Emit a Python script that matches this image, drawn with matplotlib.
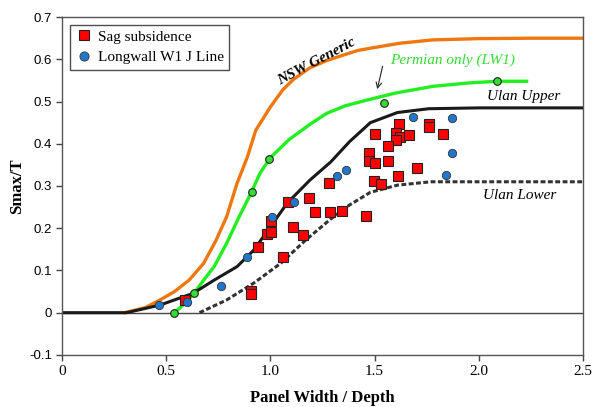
import matplotlib
matplotlib.use("Agg")
import matplotlib.pyplot as plt

# curves
nsw_x = [0.30, 0.40, 0.47, 0.54, 0.61, 0.68, 0.74, 0.79, 0.84, 0.89, 0.93, 1.00,
         1.06, 1.11, 1.19, 1.27, 1.35, 1.42, 1.50, 1.62, 1.78, 2.00, 2.25, 2.50]
nsw_y = [0.0, 0.012, 0.03, 0.05, 0.077, 0.117, 0.172, 0.227, 0.306, 0.369, 0.432, 0.487,
         0.528, 0.552, 0.580, 0.597, 0.61, 0.621, 0.628, 0.638, 0.646, 0.649, 0.65, 0.65]

perm_x = [0.54, 0.59, 0.635, 0.68, 0.73, 0.79, 0.85, 0.91, 0.95, 1.00, 1.09, 1.19,
          1.27, 1.36, 1.46, 1.60, 1.78, 1.95, 2.09, 2.23]
perm_y = [0.0, 0.022, 0.047, 0.077, 0.109, 0.164, 0.227, 0.286, 0.33, 0.367, 0.410, 0.446,
          0.472, 0.49, 0.503, 0.52, 0.536, 0.544, 0.548, 0.548]

upper_x = [0.0, 0.31, 0.47, 0.63, 0.73, 0.84, 0.92, 1.00, 1.08, 1.19, 1.29, 1.38,
           1.48, 1.61, 1.76, 2.0, 2.5]
upper_y = [0.0, 0.0, 0.018, 0.046, 0.077, 0.109, 0.148, 0.203, 0.259, 0.314, 0.357, 0.405,
           0.450, 0.474, 0.483, 0.485, 0.485]

lower_x = [0.66, 0.79, 0.92, 1.05, 1.17, 1.29, 1.38, 1.48, 1.61, 1.77, 2.0, 2.5]
lower_y = [0.0, 0.03, 0.07, 0.117, 0.172, 0.222, 0.255, 0.285, 0.302, 0.31, 0.31, 0.31]

# measured points
sag_x = [1.617, 1.761, 1.761, 1.502, 1.601, 1.622, 1.665, 1.83, 1.601, 1.563, 1.475, 1.475,
         1.502, 1.563, 1.705, 1.614, 1.499, 1.529, 1.345, 1.457, 1.286, 1.283, 1.086, 1.187,
         1.214, 1.110, 1.158, 1.003, 0.982, 1.003, 0.942, 1.059, 0.905, 0.905, 0.590]
sag_y = [0.447, 0.448, 0.440, 0.424, 0.426, 0.416, 0.42, 0.422, 0.41, 0.394, 0.379, 0.359,
         0.355, 0.359, 0.342, 0.324, 0.312, 0.304, 0.241, 0.229, 0.239, 0.307, 0.261, 0.271,
         0.239, 0.203, 0.184, 0.218, 0.186, 0.190, 0.156, 0.132, 0.052, 0.044, 0.030]

lw_x = [1.686, 1.870, 1.870, 1.843, 1.361, 1.321, 1.115, 1.006, 0.886, 0.761, 0.598, 0.467]
lw_y = [0.463, 0.462, 0.377, 0.327, 0.337, 0.324, 0.262, 0.226, 0.132, 0.064, 0.026, 0.017]

perm_pts_x = [0.539, 0.635, 0.910, 0.995, 1.547, 2.090]
perm_pts_y = [0.0, 0.047, 0.286, 0.363, 0.496, 0.548]

serif = "Liberation Serif"

fig = plt.figure(figsize=(5.96, 4.07), dpi=100)
ax = fig.add_axes([0.104, 0.128, 0.874, 0.830])

ax.axhline(0, color="#444444", lw=1.0, zorder=1)

ax.plot(nsw_x, nsw_y, color="#ee7711", lw=2.4, solid_joinstyle="round", zorder=2)
ax.plot(perm_x, perm_y, color="#22ee22", lw=2.4, solid_joinstyle="round", zorder=2)
ax.plot(upper_x, upper_y, color="#1a1a1a", lw=2.2, solid_joinstyle="round", zorder=2)
ax.plot(lower_x, lower_y, color="#333333", lw=2.2, linestyle=(0, (1.6, 0.8)), zorder=2)

ax.plot(perm_pts_x, perm_pts_y, "o", color="#33dd33", mec="#222222", mew=0.8, ms=5.5, zorder=4)
sag, = ax.plot(sag_x, sag_y, "s", color="#ff0000", mec="#222222", mew=0.8, ms=7, zorder=4)
lw1, = ax.plot(lw_x, lw_y, "o", color="#2277cc", mec="#333333", mew=0.6, ms=6, zorder=5)

ax.set_xlim(0, 2.5)
ax.set_ylim(-0.1, 0.7)
ax.set_xticks([0, 0.5, 1.0, 1.5, 2.0, 2.5])
ax.set_xticklabels(["0", "0.5", "1.0", "1.5", "2.0", "2.5"], family=serif, fontsize=11)
ax.set_yticks([-0.1, 0, 0.1, 0.2, 0.3, 0.4, 0.5, 0.6, 0.7])
ax.set_yticklabels(["-0.1", "0", "0.1", "0.2", "0.3", "0.4", "0.5", "0.6", "0.7"],
                   family="Liberation Sans", fontsize=9.5)
ax.tick_params(direction="out", length=4, width=1, color="#444444", pad=3)
for s in ax.spines.values():
    s.set_color("#555555")
    s.set_linewidth(1.0)

ax.set_xlabel("Panel Width / Depth", family=serif, fontweight="bold", fontsize=12, labelpad=9)
fig.text(0.029, 0.543, "Smax/T", family=serif, fontweight="bold", fontsize=12,
         rotation=90, ha="center", va="center")

leg = ax.legend([sag, lw1], ["Sag subsidence", "Longwall W1 J Line"], loc="upper left",
                prop={"family": serif, "size": 11}, frameon=True, fancybox=False,
                borderaxespad=0.5, handletextpad=0.3, handlelength=1.2, borderpad=0.35,
                labelspacing=0.45, markerscale=1.1)
leg.get_frame().set_edgecolor("#222222")
leg.get_frame().set_linewidth(1.0)

ax.text(1.22, 0.594, "NSW Generic", family=serif, fontweight="bold", style="italic",
        fontsize=11, rotation=28, ha="center", va="center")
ax.text(1.574, 0.597, "Permian only (LW1)", family=serif, style="italic", fontsize=11,
        color="#33dd33", ha="left", va="center")
ax.text(2.038, 0.511, "Ulan Upper", family=serif, style="italic", fontsize=11,
        ha="left", va="center")
ax.text(2.02, 0.278, "Ulan Lower", family=serif, style="italic", fontsize=11,
        ha="left", va="center")
ax.annotate("", xy=(1.51, 0.523), xytext=(1.542, 0.59),
            arrowprops=dict(arrowstyle="->", color="#222222", lw=0.8))

fig.savefig("out.png", dpi=100, facecolor="white")
